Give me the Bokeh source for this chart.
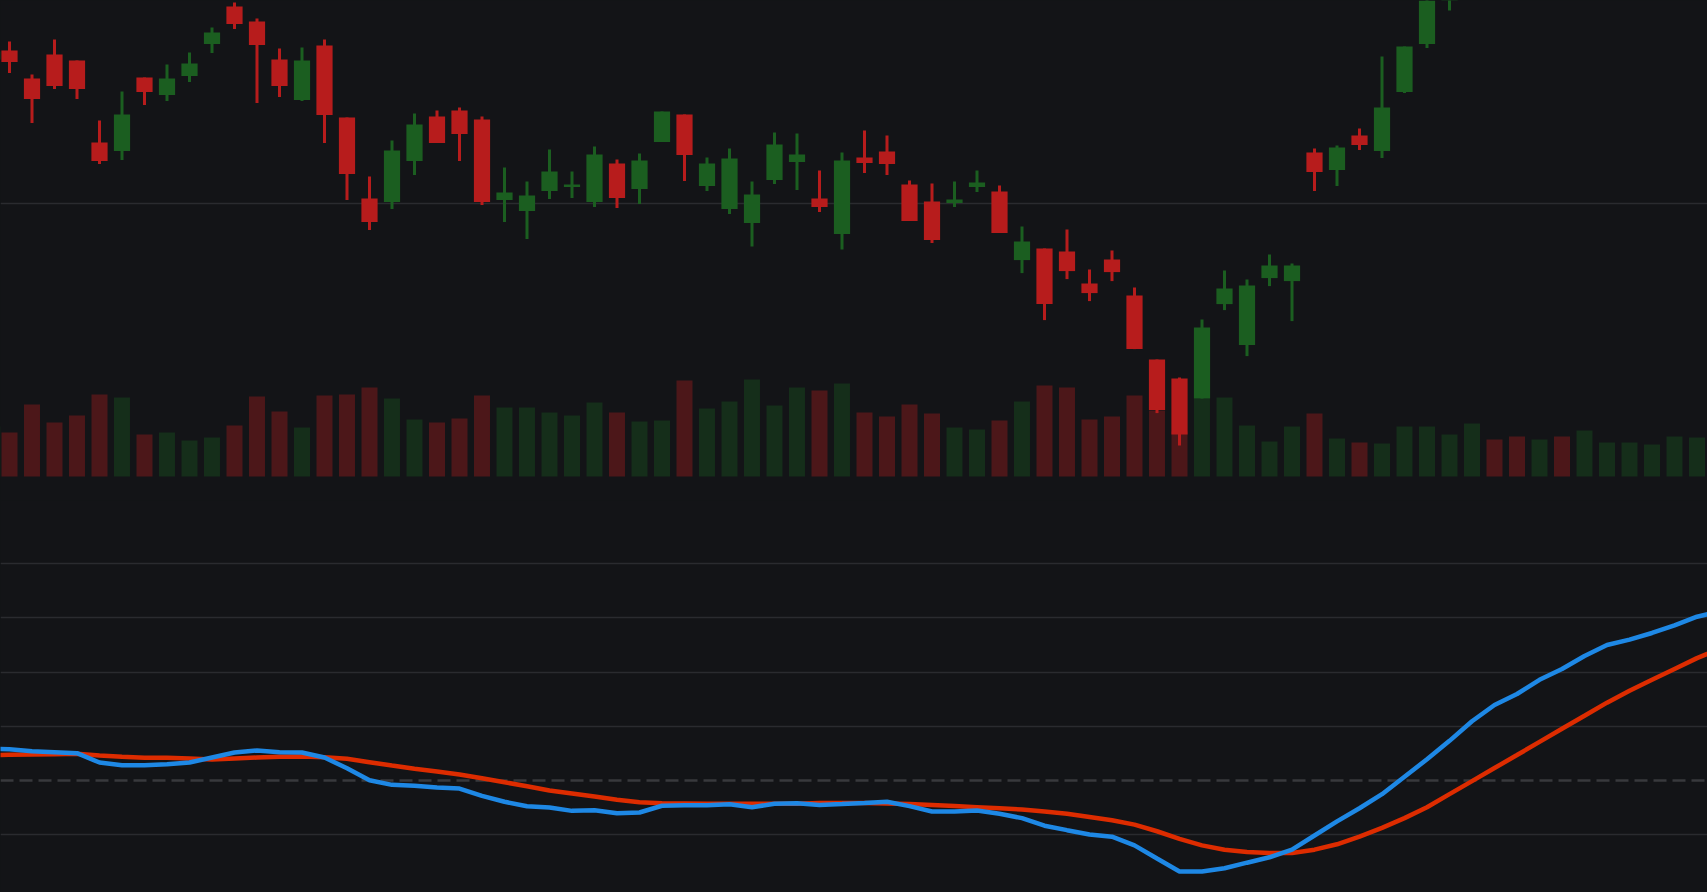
from bokeh.plotting import figure
from bokeh.layouts import column
from bokeh.models import ColumnDataSource, Range1d, FixedTicker, Grid, Span, CDSView, BooleanFilter
from bokeh.embed import file_html
from bokeh.resources import INLINE

# ---------------- data ----------------
# bar index (first bar lies just left of the visible window, last just right of it)
bars = list(range(-1, 77))
opens = [187.20,
         187.65, 186.25, 187.45, 187.15, 183.05, 182.62, 186.30, 185.42, 186.37, 187.97,
         189.85, 189.10, 187.20, 185.17, 187.90, 184.30, 180.25, 180.07, 182.12, 184.35,
         184.65, 184.20, 180.17, 179.62, 180.62, 180.82, 180.07, 182.00, 180.72, 183.07,
         184.45, 180.87, 179.72, 179.02, 181.17, 182.07, 180.25, 178.47, 182.30, 182.60,
         180.95, 180.10, 180.02, 180.82, 180.60, 177.17, 177.75, 177.60, 176.00, 177.20,
         175.40, 172.20, 171.25, 170.25, 174.97, 172.92, 176.27, 176.12, 182.55, 181.67,
         183.40, 182.62, 185.57, 187.97, 190.55, 194.00, 196.40, 196.00, 195.50, 197.80,
         197.30, 198.20, 198.80, 199.30, 199.90, 200.50, 201.10]
highs = [188.00,
         188.10, 186.45, 188.20, 187.15, 184.15, 185.60, 186.30, 186.95, 187.55, 188.80,
         190.05, 189.25, 187.75, 187.80, 188.20, 184.30, 181.35, 183.15, 184.50, 184.65,
         184.80, 184.35, 181.80, 181.10, 182.70, 181.60, 182.85, 182.20, 182.50, 184.60,
         184.45, 182.30, 182.75, 181.10, 183.55, 183.50, 181.65, 182.55, 183.65, 183.40,
         181.15, 181.00, 181.10, 181.65, 180.90, 178.85, 177.75, 178.70, 176.70, 177.65,
         175.80, 172.20, 171.30, 174.20, 176.65, 176.20, 177.45, 177.00, 182.75, 182.90,
         183.75, 187.35, 187.85, 190.90, 192.60, 196.60, 196.90, 196.50, 197.00, 198.20,
         198.80, 199.30, 199.80, 200.40, 201.10, 201.60, 202.20]
lows = [186.80,
        186.52, 184.02, 185.72, 185.22, 181.97, 182.17, 184.92, 185.12, 186.07, 187.52,
        188.72, 185.02, 185.32, 185.12, 183.02, 180.17, 178.67, 179.72, 181.42, 183.02,
        182.12, 179.92, 179.07, 178.22, 180.22, 180.27, 179.82, 179.77, 179.97, 183.07,
        181.12, 180.62, 179.47, 177.85, 180.97, 180.67, 179.57, 177.70, 181.52, 181.42,
        179.12, 178.02, 179.82, 180.57, 178.52, 176.52, 174.17, 176.22, 175.12, 176.12,
        172.72, 169.52, 167.90, 170.25, 174.67, 172.37, 175.87, 174.12, 180.62, 180.87,
        182.67, 182.27, 185.52, 187.77, 189.65, 193.60, 195.20, 194.90, 195.10, 196.80,
        197.00, 197.90, 198.40, 199.00, 199.50, 200.10, 200.80]
closes = [187.60,
          187.07, 185.22, 185.87, 185.72, 182.12, 184.45, 185.57, 186.25, 187.00, 188.55,
          188.97, 187.92, 185.87, 187.15, 184.42, 181.47, 179.07, 182.65, 183.95, 183.02,
          183.47, 180.07, 180.55, 180.40, 181.60, 180.95, 182.45, 180.27, 182.15, 184.60,
          182.42, 182.00, 182.25, 180.45, 182.95, 182.45, 179.82, 182.15, 182.02, 181.97,
          179.12, 178.17, 180.20, 181.05, 178.52, 178.10, 174.97, 176.62, 175.52, 176.57,
          172.72, 169.67, 168.45, 173.80, 175.75, 175.90, 176.90, 176.90, 181.57, 182.80,
          182.92, 184.80, 187.85, 190.65, 192.20, 196.10, 195.70, 195.40, 196.60, 197.20,
          198.30, 198.90, 199.40, 200.00, 200.60, 201.20, 201.90]
volumes = [500,
           440, 720, 540, 610, 820, 790, 420, 440, 360, 390,
           510, 800, 650, 490, 810, 820, 890, 780, 570, 540,
           580, 810, 690, 690, 640, 610, 740, 640, 550, 560,
           960, 680, 750, 970, 710, 890, 860, 930, 640, 600,
           720, 630, 490, 470, 560, 750, 910, 890, 570, 600,
           810, 660, 450, 780, 790, 510, 350, 500, 630, 380,
           340, 330, 500, 500, 420, 530, 370, 400, 370, 400,
           460, 340, 340, 320, 400, 390, 400]
macd = [0.295,
        0.289, 0.270, 0.261, 0.252, 0.166, 0.141, 0.141, 0.150, 0.166, 0.212,
        0.258, 0.277, 0.261, 0.258, 0.212, 0.113, 0.003, -0.040, -0.049, -0.065,
        -0.074, -0.141, -0.196, -0.237, -0.249, -0.280, -0.274, -0.302, -0.295, -0.233,
        -0.228, -0.228, -0.219, -0.246, -0.215, -0.209, -0.226, -0.217, -0.207, -0.196,
        -0.236, -0.286, -0.286, -0.277, -0.307, -0.347, -0.417, -0.458, -0.498, -0.518,
        -0.598, -0.719, -0.839, -0.839, -0.809, -0.758, -0.708, -0.638, -0.507, -0.377,
        -0.256, -0.126, 0.035, 0.196, 0.366, 0.547, 0.697, 0.798, 0.929, 1.029,
        1.149, 1.250, 1.300, 1.361, 1.431, 1.511, 1.560]
signal = [0.234,
          0.237, 0.240, 0.243, 0.246, 0.231, 0.219, 0.209, 0.209, 0.203, 0.194,
          0.203, 0.212, 0.219, 0.221, 0.215, 0.200, 0.169, 0.138, 0.108, 0.083,
          0.055, 0.021, -0.016, -0.053, -0.092, -0.120, -0.148, -0.178, -0.200, -0.209,
          -0.212, -0.215, -0.215, -0.215, -0.215, -0.215, -0.207, -0.207, -0.207, -0.212,
          -0.217, -0.226, -0.236, -0.246, -0.256, -0.267, -0.286, -0.307, -0.337, -0.367,
          -0.407, -0.468, -0.538, -0.598, -0.638, -0.659, -0.668, -0.668, -0.638, -0.588,
          -0.518, -0.437, -0.347, -0.246, -0.126, -0.006, 0.115, 0.235, 0.356, 0.477,
          0.597, 0.718, 0.828, 0.929, 1.029, 1.129, 1.215]
price_grid = [180]
macd_grid = [-0.5, 0.5, 1.0, 1.5, 2.0]
PRICE_LO, PRICE_HI = 165.15, 190.15

# ---------------- style ----------------
BG = "#131417"
GRID = "#2a2b2f"
UP = "#1b5e20"
DOWN = "#b71c1c"
W = 1707
H_TOP = 500
H_BOT = 392

colors = [UP if c >= o else DOWN for o, c in zip(opens, closes)]
src = ColumnDataSource(dict(
    x=bars, open=opens, high=highs, low=lows, close=closes,
    top=[max(o, c) for o, c in zip(opens, closes)],
    bottom=[min(o, c) for o, c in zip(opens, closes)],
    vol=volumes, color=colors, macd=macd, signal=signal,
))
# candles whose whole range lies above the visible price window are not drawn
in_view = CDSView(filter=BooleanFilter([lo <= PRICE_HI for lo in lows]))

x_range = Range1d(-0.4, -0.4 + W / 22.5)

p = figure(width=W, height=H_TOP, x_range=x_range, y_range=Range1d(PRICE_LO, PRICE_HI),
           x_axis_type=None, y_axis_type=None, output_backend="svg",
           toolbar_location=None, min_border=0, background_fill_color=BG,
           border_fill_color=BG, outline_line_color=None)
p.add_layout(Grid(dimension=1, ticker=FixedTicker(ticks=price_grid),
                  grid_line_color=GRID, grid_line_width=1.5))
p.extra_y_ranges = {"vol": Range1d(-240, 4760)}
p.vbar(x="x", top="vol", bottom=0, width=0.711, source=src, y_range_name="vol",
       fill_color="color", fill_alpha=0.35, line_color=None)
p.segment(x0="x", y0="low", x1="x", y1="high", source=src, view=in_view,
          line_color="color", line_width=3)
p.vbar(x="x", top="top", bottom="bottom", width=0.72, source=src, view=in_view,
       fill_color="color", line_color=None)

q = figure(width=W, height=H_BOT, x_range=x_range, y_range=Range1d(-1.033, 2.583),
           x_axis_type=None, y_axis_type=None, output_backend="svg",
           toolbar_location=None, min_border=0, background_fill_color=BG,
           border_fill_color=BG, outline_line_color=None)
q.add_layout(Grid(dimension=1, ticker=FixedTicker(ticks=macd_grid),
                  grid_line_color=GRID, grid_line_width=1.5))
q.add_layout(Span(location=0, dimension="width", line_color="#38393d", line_width=2.5,
                  line_dash="13 6", level="underlay"))
q.line(x="x", y="signal", source=src, line_color="#dd2c00", line_width=4.5)
q.line(x="x", y="macd", source=src, line_color="#1e88e5", line_width=4.5)

layout = column(p, q, spacing=0)

html = None
try:
    from bokeh.core.templates import get_env
    tmpl = get_env().from_string(
        '{% extends "file.html" %}{% block preamble %}<style>html,body{margin:0 !important;'
        'padding:0;background:#131417;overflow:hidden}</style>{% endblock %}')
    html = file_html(layout, INLINE, template=tmpl)
except Exception:
    html = None
if html is None:
    html = file_html(layout, INLINE)
open("out.html", "w").write(html)
